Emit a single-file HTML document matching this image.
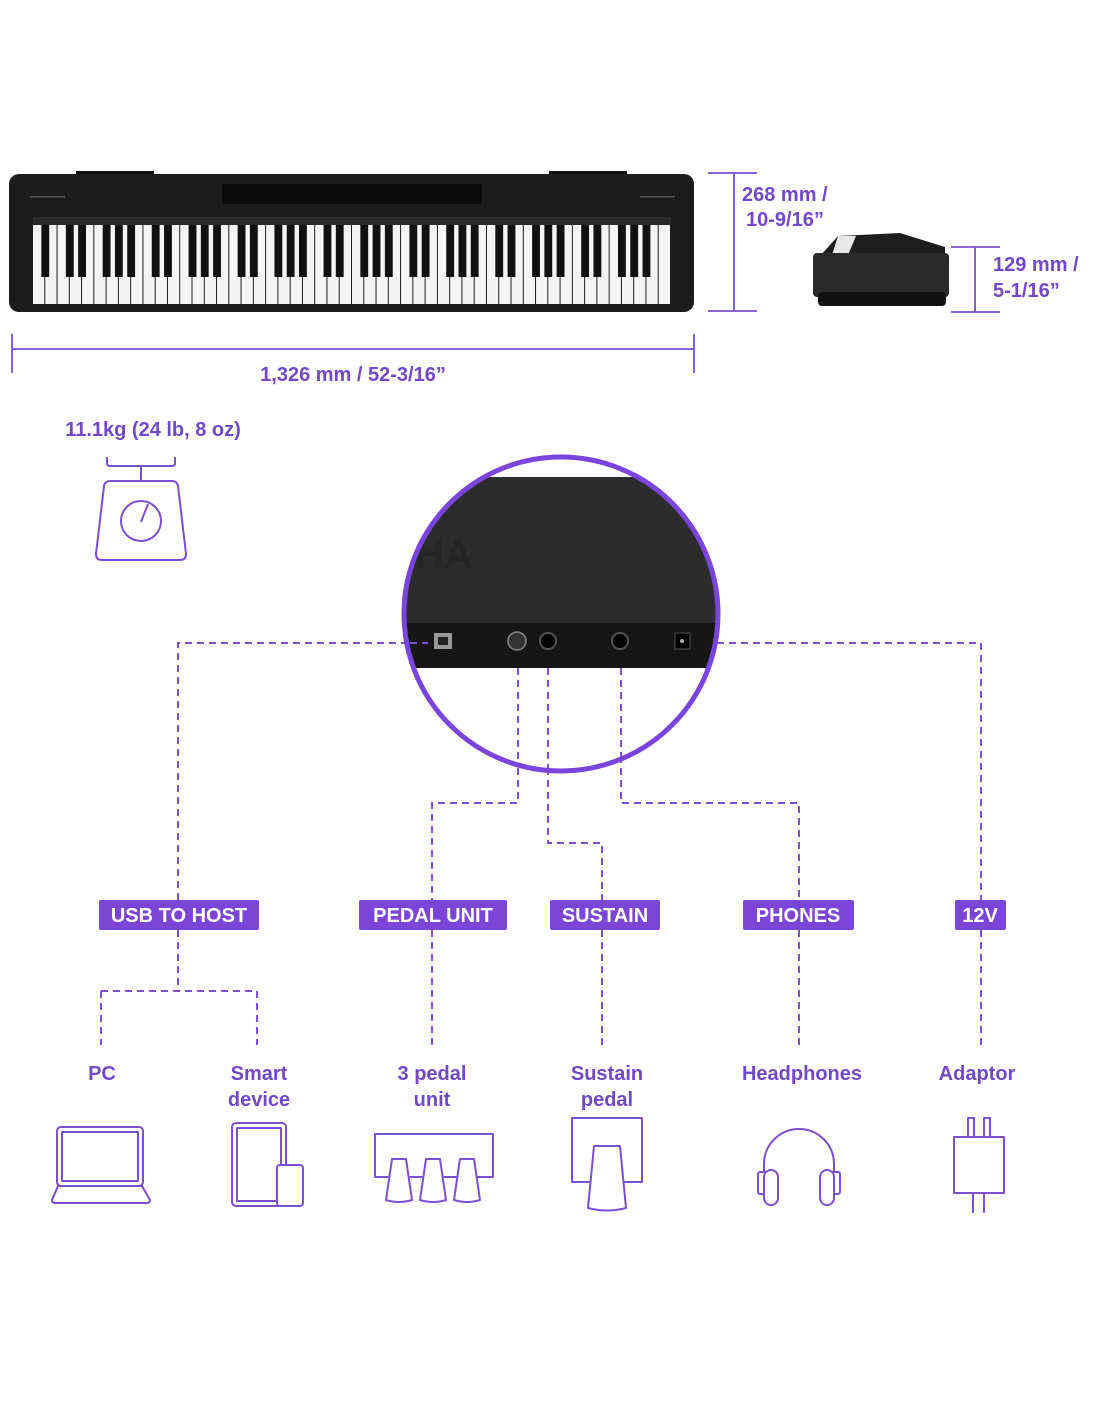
<!DOCTYPE html>
<html><head><meta charset="utf-8"><style>
html,body{margin:0;padding:0;background:#fff;}
svg{display:block;}
text{font-family:"Liberation Sans",Arial,sans-serif;font-weight:bold;}
</style></head><body>
<svg id="s" width="1100" height="1422" viewBox="0 0 1100 1422" xmlns="http://www.w3.org/2000/svg">
<defs>
<clipPath id="cc"><circle cx="561" cy="614" r="155"/></clipPath>
</defs>
<rect x="76" y="171" width="78" height="6" fill="#111"/>
<rect x="549" y="171" width="78" height="6" fill="#111"/>
<rect x="9" y="174" width="685" height="138" rx="10" fill="#1c1c1c"/>
<rect x="222" y="184" width="260" height="20" fill="#0b0b0b"/>
<rect x="30" y="196" width="35" height="1.5" fill="#555"/>
<rect x="640" y="196" width="35" height="1.5" fill="#555"/>
<rect x="33" y="217" width="638" height="8" fill="#2a2a2a"/>
<g id="keys"></g>
<g stroke="#7a4fd0" stroke-width="1.8" fill="none">
<line x1="12" y1="349" x2="694" y2="349"/>
<line x1="12" y1="334" x2="12" y2="373"/>
<line x1="694" y1="334" x2="694" y2="373"/>
<line x1="734" y1="173" x2="734" y2="311"/>
<line x1="708" y1="173" x2="757" y2="173"/>
<line x1="708" y1="311" x2="757" y2="311"/>
<line x1="975" y1="247" x2="975" y2="312"/>
<line x1="951" y1="247" x2="1000" y2="247"/>
<line x1="951" y1="312" x2="1000" y2="312"/>
</g>
<text x="353" y="381" font-size="20" fill="#7048c8" text-anchor="middle">1,326 mm / 52-3/16”</text>
<text x="742" y="201" font-size="20" fill="#7048c8">268 mm /</text>
<text x="746" y="226" font-size="20" fill="#7048c8">10-9/16”</text>
<text x="993" y="271" font-size="20" fill="#7048c8">129 mm /</text>
<text x="993" y="297" font-size="20" fill="#7048c8">5-1/16”</text>
<polygon points="838,236 900,233 945,247 945,256 820,256 838,236" fill="#1e1e1e"/>
<polygon points="838,236 856,236 848,255 832,255" fill="#e8e8e8"/>
<rect x="813" y="253" width="136" height="44" rx="4" fill="#2a2a2a"/>
<rect x="818" y="292" width="128" height="14" rx="4" fill="#111"/>
<text x="153" y="436" font-size="20" fill="#7048c8" text-anchor="middle">11.1kg (24 lb, 8 oz)</text>
<g stroke="#7a4fd0" stroke-width="2" fill="none" stroke-linejoin="round">
<path d="M107,457 v6 q0,3 3,3 h62 q3,0 3,-3 v-6"/>
<line x1="141" y1="466" x2="141" y2="481"/>
<path d="M110,481 h62 q5,0 6,5 l8,68 q0,6 -6,6 h-78 q-6,0 -6,-6 l8,-68 q1,-5 6,-5z"/>
<circle cx="141" cy="521" r="20"/>
<line x1="141" y1="522" x2="148" y2="504"/>
</g>
<g stroke="#7a4fd0" stroke-width="2" fill="none" stroke-dasharray="7,5">
<path d="M420,643 H178 V900"/>
<path d="M178,930 V991 M101,991 H257 M101,991 V1045 M257,991 V1045"/>
<path d="M705,643 H981 V900 M981,930 V1045"/>
<path d="M518,660 V803 H432 V900 M432,930 V1045"/>
<path d="M548,660 V843 H602 V900 M602,930 V1045"/>
<path d="M621,660 V803 H799 V900 M799,930 V1045"/>
</g>
<g clip-path="url(#cc)">
<rect x="400" y="455" width="330" height="320" fill="#fff"/>
<polygon points="400,495 485,477 730,477 730,668 400,668" fill="#2c2c2c"/>
<rect x="400" y="623" width="330" height="45" fill="#161616"/>
<text x="415" y="568" font-size="40" fill="#252525">HA</text>
<rect x="434" y="633" width="18" height="16" fill="#999"/>
<rect x="438" y="637" width="10" height="8" fill="#222"/>
<circle cx="517" cy="641" r="9" fill="#333" stroke="#888" stroke-width="1.5"/>
<circle cx="548" cy="641" r="8" fill="#000" stroke="#555" stroke-width="2"/>
<circle cx="620" cy="641" r="8" fill="#000" stroke="#555" stroke-width="2"/>
<rect x="675" y="633" width="15" height="16" fill="#000" stroke="#555"/>
<circle cx="682" cy="641" r="2" fill="#aaa"/>
<line x1="410" y1="643" x2="428" y2="643" stroke="#7a4fd0" stroke-width="2" stroke-dasharray="7,5"/>
<path d="M518,668 V780 M548,668 V780 M621,668 V780" stroke="#7a4fd0" stroke-width="2" stroke-dasharray="7,5"/>
</g>
<circle cx="561" cy="614" r="157" fill="none" stroke="#7a45dc" stroke-width="5"/>
<g fill="#7b45d8">
<rect x="99" y="900" width="160" height="30" rx="2"/>
<rect x="359" y="900" width="148" height="30" rx="2"/>
<rect x="550" y="900" width="110" height="30" rx="2"/>
<rect x="743" y="900" width="111" height="30" rx="2"/>
<rect x="955" y="900" width="51" height="30" rx="2"/>
</g>
<g fill="#fff" font-size="20" text-anchor="middle">
<text x="179" y="922">USB TO HOST</text>
<text x="433" y="922">PEDAL UNIT</text>
<text x="605" y="922">SUSTAIN</text>
<text x="798" y="922">PHONES</text>
<text x="980" y="922">12V</text>
</g>
<g fill="#7048c8" font-size="20" text-anchor="middle">
<text x="102" y="1080">PC</text>
<text x="259" y="1080">Smart</text><text x="259" y="1106">device</text>
<text x="432" y="1080">3 pedal</text><text x="432" y="1106">unit</text>
<text x="607" y="1080">Sustain</text><text x="607" y="1106">pedal</text>
<text x="802" y="1080">Headphones</text>
<text x="977" y="1080">Adaptor</text>
</g>
<g stroke="#7a4fd0" stroke-width="2" fill="none" stroke-linejoin="round">
<rect x="57" y="1127" width="86" height="59" rx="4"/>
<rect x="62" y="1132" width="76" height="49"/>
<path d="M58,1186 h84 l8,14 q0,3 -3,3 h-92 q-3,0 -3,-3z"/>
<rect x="232" y="1123" width="54" height="83" rx="4"/>
<rect x="237" y="1128" width="44" height="73"/>
<rect x="277" y="1165" width="26" height="41" rx="3" fill="#fff"/>
<rect x="375" y="1134" width="118" height="43"/>
<path d="M392,1159 h14 l6,41 q-13,4 -26,0z" fill="#fff"/>
<path d="M426,1159 h14 l6,41 q-13,4 -26,0z" fill="#fff"/>
<path d="M460,1159 h14 l6,41 q-13,4 -26,0z" fill="#fff"/>
<rect x="572" y="1118" width="70" height="64"/>
<path d="M594,1146 h26 l6,62 q-19,5 -38,0z" fill="#fff"/>
<path d="M764,1172 v-8 a35,35 0 0 1 70,0 v8"/>
<rect x="758" y="1172" width="10" height="22" rx="2"/>
<rect x="764" y="1170" width="14" height="35" rx="7" fill="#fff"/>
<rect x="830" y="1172" width="10" height="22" rx="2"/>
<rect x="820" y="1170" width="14" height="35" rx="7" fill="#fff"/>
<rect x="954" y="1137" width="50" height="56"/>
<rect x="968" y="1118" width="6" height="19"/>
<rect x="984" y="1118" width="6" height="19"/>
<line x1="973" y1="1193" x2="973" y2="1213"/>
<line x1="984" y1="1193" x2="984" y2="1213"/>
</g>
</svg>
<script>
(function(){
var g=document.getElementById('keys');
var x0=33,w=638/52,y=225,h=79,out='';
for(var i=0;i<52;i++){out+='<rect x="'+(x0+i*w)+'" y="'+y+'" width="'+(w-1)+'" height="'+h+'" fill="#f4f4f4"/>';}
var names=['A','B','C','D','E','F','G'];
for(var i=0;i<51;i++){var n=names[i%7];if(n==='B'||n==='E')continue;
out+='<rect x="'+(x0+(i+1)*w-w*0.32)+'" y="'+y+'" width="'+(w*0.64)+'" height="52" fill="#111"/>';}
g.innerHTML=out;
})();
</script>
</body></html>
